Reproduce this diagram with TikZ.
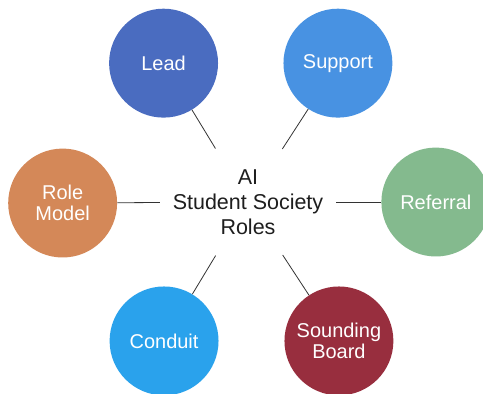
\documentclass[tikz,border=0pt]{standalone}
\usepackage{fontspec}
\setmainfont{Liberation Sans}
\usetikzlibrary{shapes.geometric}

\definecolor{leadblue}{RGB}{74,108,192}
\definecolor{supportblue}{RGB}{72,146,226}
\definecolor{modelorange}{RGB}{212,136,88}
\definecolor{referralgreen}{RGB}{132,186,142}
\definecolor{conduitblue}{RGB}{42,162,236}
\definecolor{boardred}{RGB}{152,46,62}
\definecolor{hubtext}{RGB}{30,30,30}

\tikzset{
	role/.style={circle, minimum size=109pt, inner sep=0pt, text=white,
		align=center, font=\fontsize{20}{20.5}\selectfont},
	spoke/.style={thick, black!80}
}

\begin{document}
\begin{tikzpicture}[x=1pt, y=-1pt]
		\filldraw[white] (0,0) rectangle (483,393);
		\useasboundingbox (0,0) rectangle (483,393);

		\node[align=center, text=hubtext, font=\fontsize{21.5}{25}\selectfont] (hub) at (248,202) {AI\\Student Society\\Roles};
		\node[ellipse, minimum width=176pt, minimum height=115pt, inner sep=0pt] (ring) at (248,202) {};

		\node[role, fill=leadblue] (lead) at (163.5,63) {Lead};
		\node[role, fill=supportblue] (support) at (338,63) {Support};
		\node[role, fill=modelorange] (model) at (62.5,203) {Role\\Model};
		\node[role, fill=referralgreen] (referral) at (436,202) {Referral};
		\node[role, fill=conduitblue] (conduit) at (164,341) {Conduit};
		\node[role, fill=boardred] (board) at (339,341) {Sounding\\Board};

		\draw[spoke] (lead) -- (ring);
		\draw[spoke] (support) -- (ring);
		\draw[spoke] (model) -- (ring);
		\draw[spoke] (referral) -- (ring);
		\draw[spoke] (conduit) -- (ring);
		\draw[spoke] (board) -- (ring);
	\end{tikzpicture}
\end{document}
